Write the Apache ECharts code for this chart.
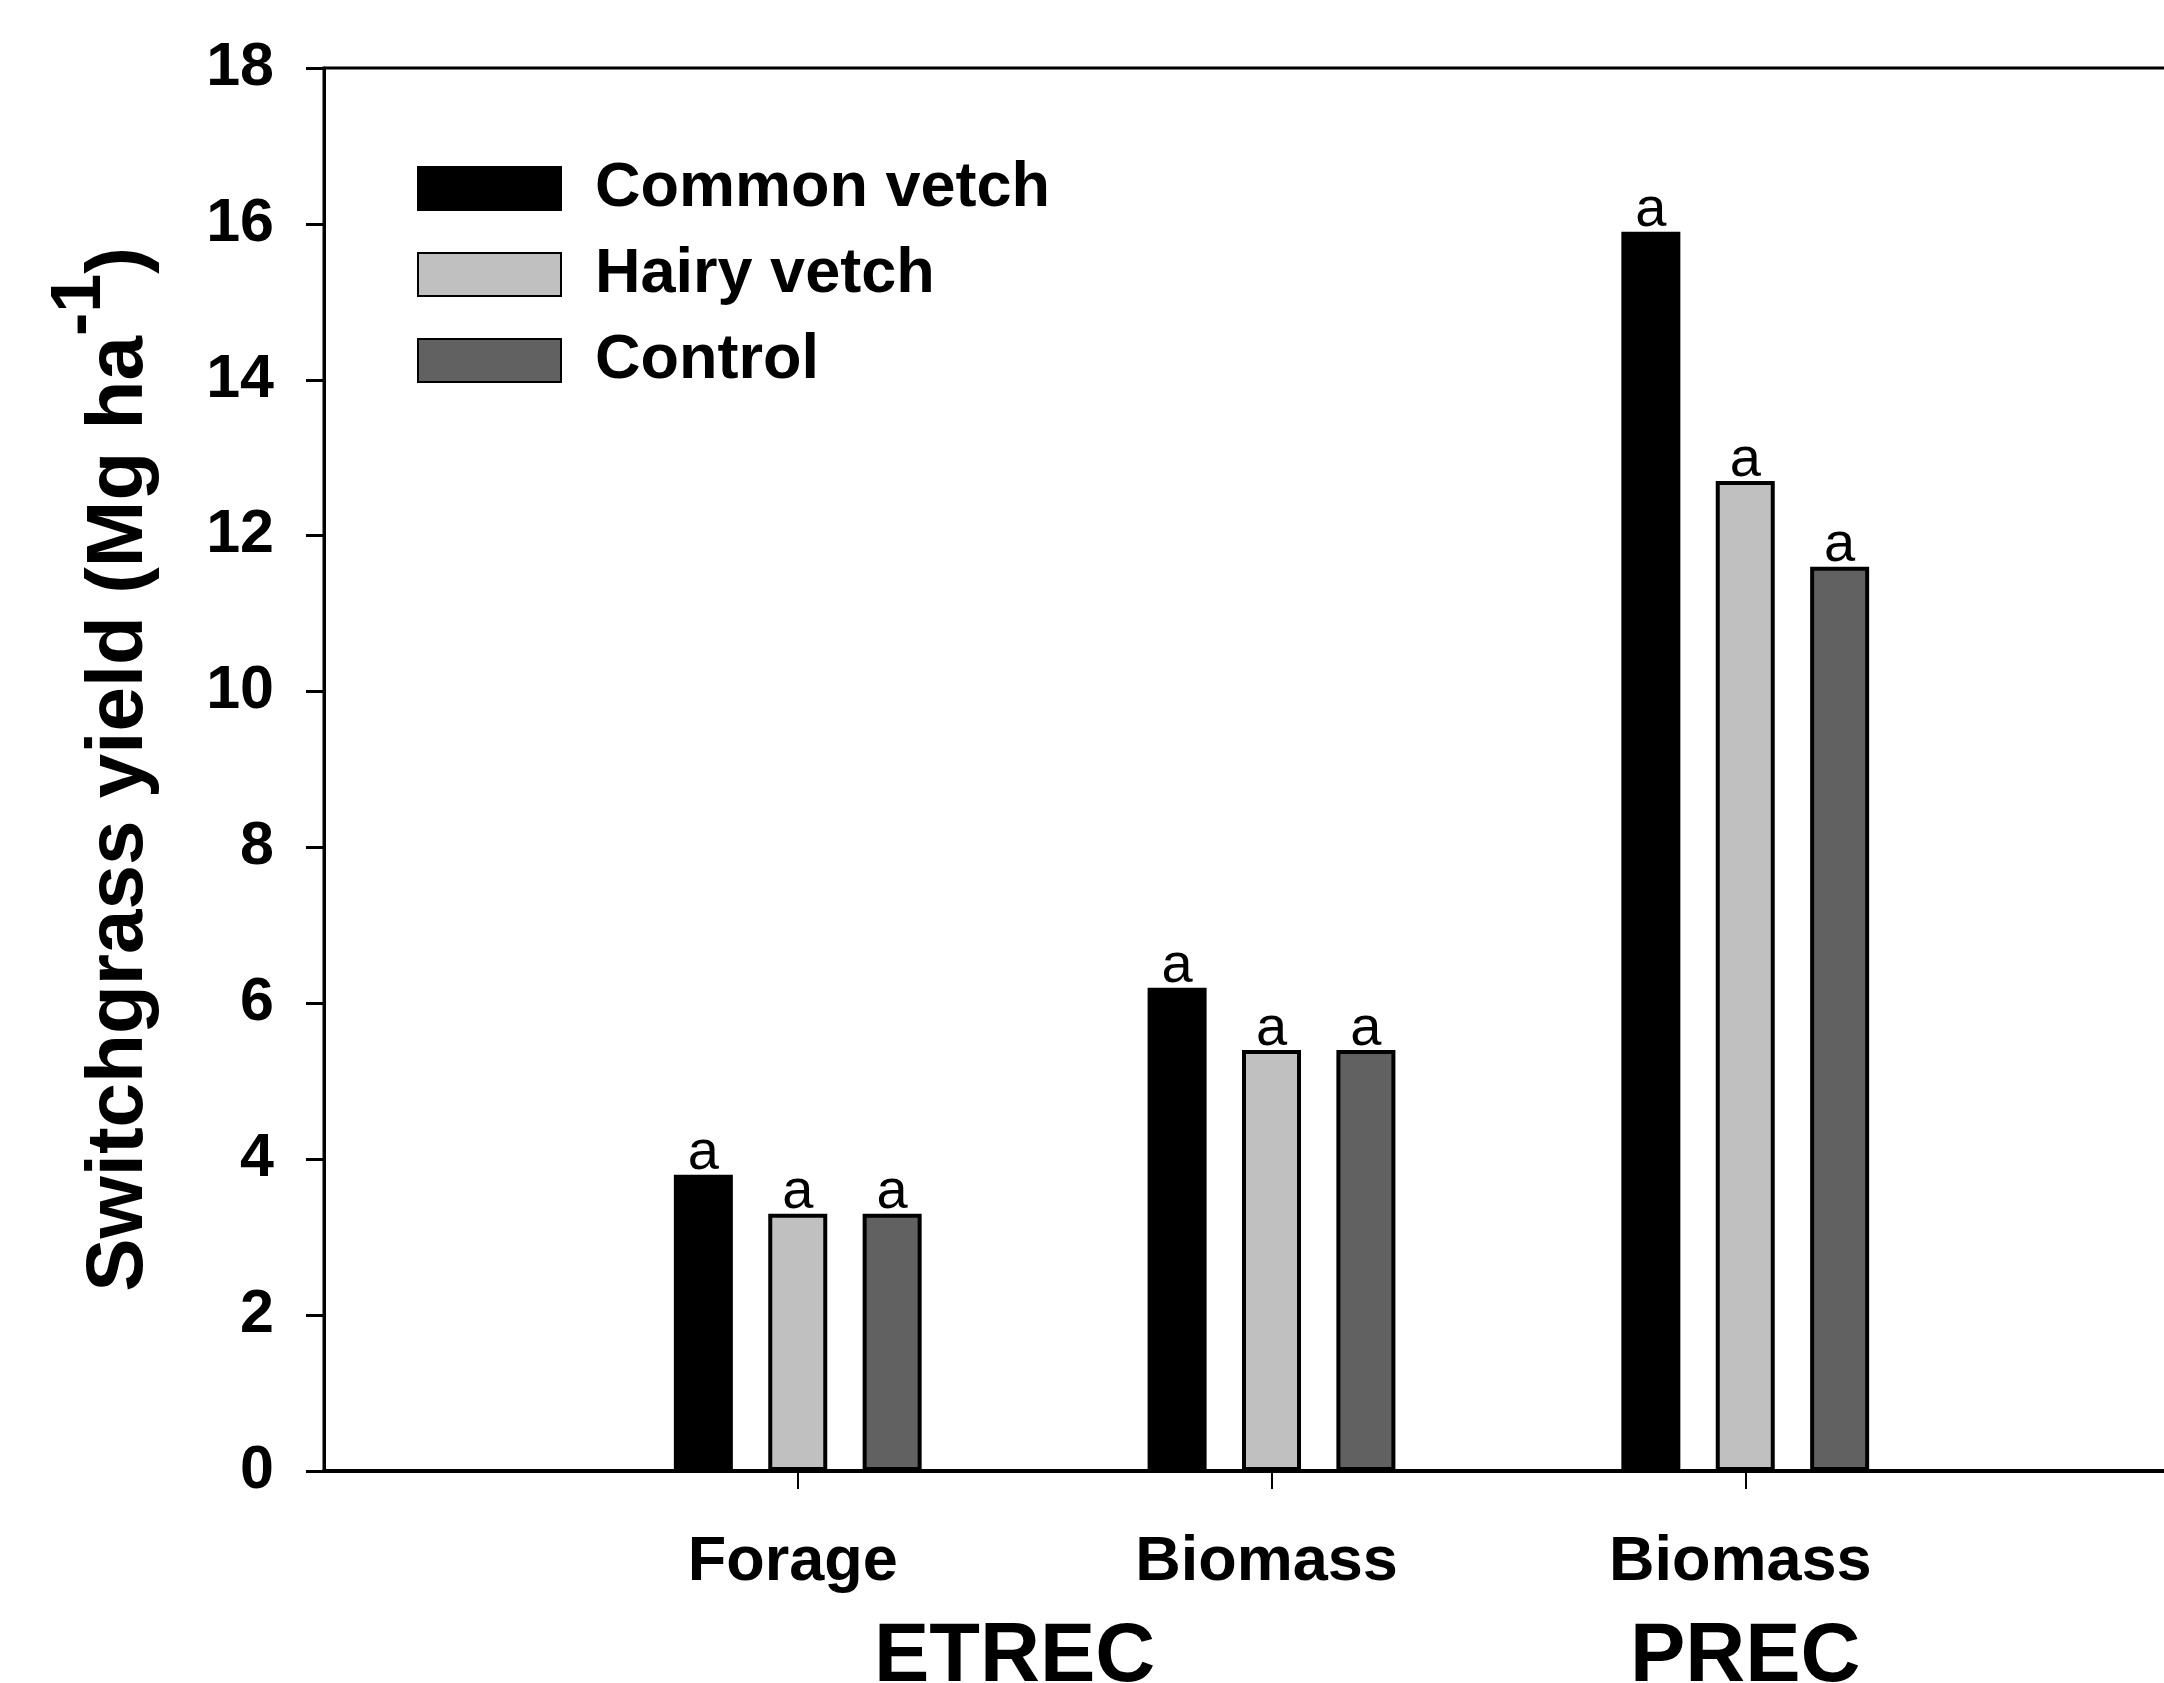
<!DOCTYPE html>
<html>
<head>
<meta charset="utf-8">
<script src="https://cdn.jsdelivr.net/npm/echarts@6/dist/echarts.min.js"></script>
<style>
  html, body { margin: 0; padding: 0; background: #fff; overflow: hidden; }
  /* the original figure is cropped on the right: the frame runs past the page edge */
  #main { width: 2222px; height: 1683px; }
</style>
</head>
<body>
<div id="main"></div>
<script>
// categories: empty slots at both ends so the groups sit on the axis like the original
var categories = ['', 'Forage', 'Biomass', 'Biomass', ''];
var groups = ['ETREC', 'PREC'];
var yTicks = [0, 2, 4, 6, 8, 10, 12, 14, 16, 18];

var commonVetch = [null, 3.8, 6.2, 15.9, null];
var hairyVetch = [null, 3.3, 5.4, 12.7, null];
var control = [null, 3.3, 5.4, 11.6, null];

var commonLetters = ['', 'a', 'a', 'a', ''];
var hairyLetters = ['', 'a', 'a', 'a', ''];
var controlLetters = ['', 'a', 'a', 'a', ''];

var FONT = '"Liberation Sans", Arial, sans-serif';

var chartDom = document.getElementById('main');
var myChart = echarts.init(chartDom);

function barSeries(name, data, letters, color) {
  return {
    name: name,
    type: 'bar',
    data: data,
    barWidth: 59,
    barGap: '60%',
    itemStyle: { color: color, borderColor: '#000', borderWidth: 4 },
    label: {
      show: true,
      position: 'top',
      distance: -7,
      color: '#000',
      fontFamily: FONT,
      fontSize: 56,
      formatter: function (p) { return letters[p.dataIndex]; }
    },
    emphasis: { disabled: true }
  };
}

var option = {
  animation: false,
  backgroundColor: '#fff',
  grid: {
    left: 324,
    top: 68,
    bottom: 212,
    right: 0,
    show: true,
    borderColor: '#000',
    borderWidth: 3
  },
  legend: {
    orient: 'vertical',
    left: 412,
    top: 152,
    icon: 'rect',
    itemWidth: 143,
    itemHeight: 43,
    itemGap: 23,
    selectedMode: false,
    textStyle: {
      fontFamily: FONT,
      fontWeight: 'bold',
      fontSize: 63,
      color: '#000',
      padding: [0, 0, 0, 29]
    },
    data: ['Common vetch', 'Hairy vetch', 'Control']
  },
  xAxis: {
    type: 'category',
    data: categories,
    boundaryGap: false,
    axisLine: { lineStyle: { color: '#000', width: 4 } },
    axisTick: {
      length: 18,
      lineStyle: { color: '#000', width: 2 },
      interval: function (i) { return i > 0 && i < categories.length - 1; }
    },
    axisLabel: {
      margin: 60,
      color: '#000',
      fontFamily: FONT,
      fontWeight: 'bold',
      fontSize: 63,
      interval: 0,
      padding: [0, 10, 0, 0]
    },
    splitLine: { show: false }
  },
  yAxis: {
    type: 'value',
    min: yTicks[0],
    max: yTicks[yTicks.length - 1],
    interval: 2,
    name: '{t|Switchgrass yield (Mg ha}{s|-1}{t|)}',
    nameLocation: 'middle',
    nameRotate: 90,
    nameGap: 127,
    nameTextStyle: {
      rich: {
        t: { fontFamily: FONT, fontWeight: 'bold', fontSize: 80, color: '#000', lineHeight: 92 },
        s: { fontFamily: FONT, fontWeight: 'bold', fontSize: 70, color: '#000', lineHeight: 70, padding: [0, 0, 80, 0] }
      }
    },
    axisLine: { show: true, lineStyle: { color: '#000', width: 3 } },
    axisTick: { show: true, length: 18, lineStyle: { color: '#000', width: 3 } },
    axisLabel: {
      margin: 50,
      color: '#000',
      fontFamily: FONT,
      fontWeight: 'bold',
      fontSize: 61
    },
    splitLine: { show: false }
  },
  series: [
    barSeries('Common vetch', commonVetch, commonLetters, '#000000'),
    barSeries('Hairy vetch', hairyVetch, hairyLetters, '#c0c0c0'),
    barSeries('Control', control, controlLetters, '#616161')
  ]
};

option && myChart.setOption(option);

// site labels under the category labels, centred on their groups
var x1 = myChart.convertToPixel({ xAxisIndex: 0 }, 1);
var x2 = myChart.convertToPixel({ xAxisIndex: 0 }, 2);
var x3 = myChart.convertToPixel({ xAxisIndex: 0 }, 3);
myChart.setOption({
  graphic: [
    { type: 'text', x: (x1 + x2) / 2 - 20, y: 1658, style: { text: groups[0], fill: '#000', font: 'bold 83px ' + FONT, textAlign: 'center', textVerticalAlign: 'middle' } },
    { type: 'text', x: x3, y: 1658, style: { text: groups[1], fill: '#000', font: 'bold 83px ' + FONT, textAlign: 'center', textVerticalAlign: 'middle' } }
  ]
});
</script>
</body>
</html>
